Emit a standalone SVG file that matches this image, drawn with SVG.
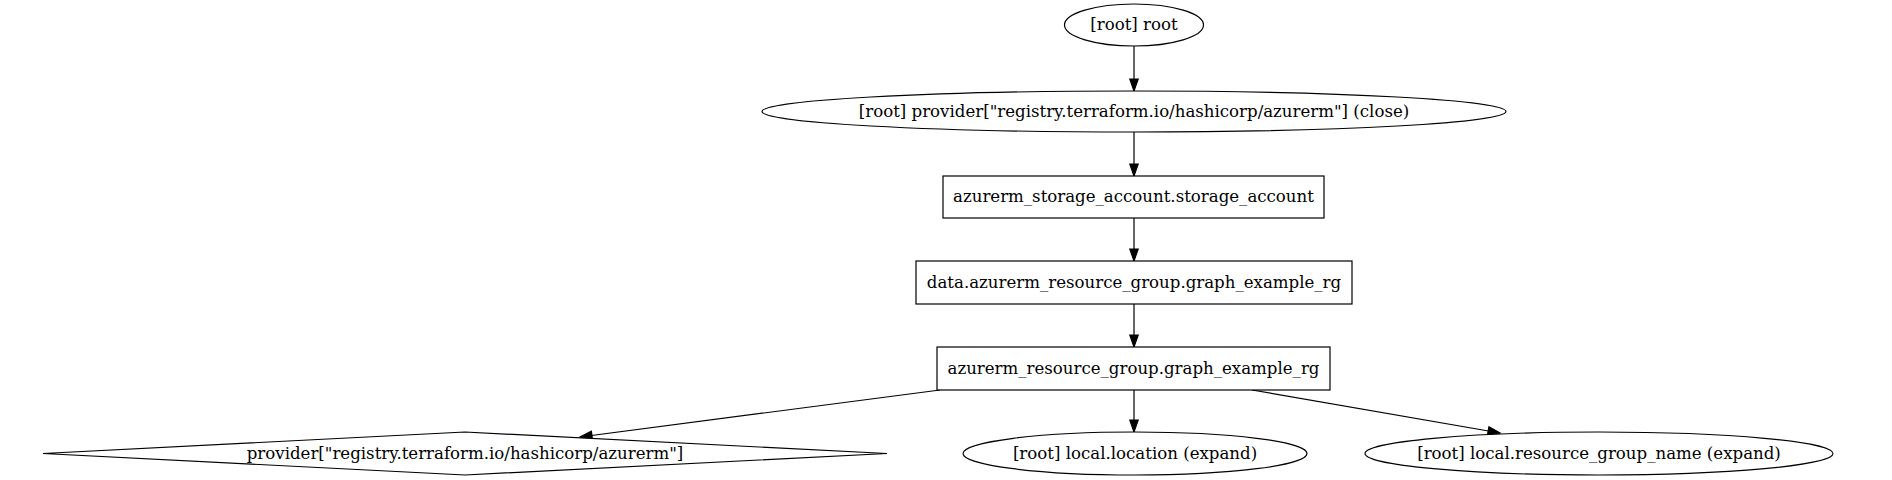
<svg xmlns="http://www.w3.org/2000/svg" width="1892" height="480" viewBox="0 0 1892 480">
<style>
.n{fill:#fff;stroke:#000;stroke-width:1.2}
.t{font-family:"DejaVu Serif",serif;font-size:16.6px;text-anchor:middle;fill:#000}
.e{fill:none;stroke:#000;stroke-width:1.2;marker-end:url(#ah)}
</style>
<defs>
<marker id="ah" markerUnits="userSpaceOnUse" markerWidth="14" markerHeight="10" refX="12" refY="4.2" orient="auto" overflow="visible">
<path d="M0,0 L12,4.2 L0,8.4 Z" fill="#000" stroke="#000" stroke-width="1.2"/>
</marker>
</defs>
<rect width="1892" height="480" fill="#fff"/>
<g id="edges">
<line class="e" x1="1134" y1="46" x2="1134" y2="91"/>
<line class="e" x1="1134" y1="132" x2="1134" y2="176"/>
<line class="e" x1="1134" y1="218" x2="1134" y2="261"/>
<line class="e" x1="1134" y1="304" x2="1134" y2="347"/>
<line class="e" x1="1134" y1="390" x2="1134" y2="432"/>
<line class="e" x1="940" y1="390" x2="580" y2="437"/>
<line class="e" x1="1252" y1="390" x2="1500" y2="433"/>
</g>
<g id="root">
<ellipse class="n" cx="1134" cy="25" rx="69.5" ry="21"/>
<text class="t" x="1134" y="30">[root] root</text>
</g>
<g id="provider_close">
<ellipse class="n" cx="1134" cy="111.5" rx="372" ry="20.5"/>
<text class="t" x="1134" y="116.5">[root] provider["registry.terraform.io/hashicorp/azurerm"] (close)</text>
</g>
<g id="storage_account">
<rect class="n" x="943" y="176" width="381" height="42"/>
<text class="t" x="1133.5" y="202">azurerm_storage_account.storage_account</text>
</g>
<g id="data_rg">
<rect class="n" x="916" y="261" width="436" height="43"/>
<text class="t" x="1134" y="287.5">data.azurerm_resource_group.graph_example_rg</text>
</g>
<g id="rg">
<rect class="n" x="937" y="347" width="393" height="43"/>
<text class="t" x="1133.5" y="373.5">azurerm_resource_group.graph_example_rg</text>
</g>
<g id="provider">
<polygon class="n" points="43,453.5 465,432 887,453.5 465,475"/>
<text class="t" x="465" y="458.5">provider["registry.terraform.io/hashicorp/azurerm"]</text>
</g>
<g id="location">
<ellipse class="n" cx="1135" cy="453.5" rx="172" ry="21.5"/>
<text class="t" x="1135" y="458.5">[root] local.location (expand)</text>
</g>
<g id="rg_name">
<ellipse class="n" cx="1599" cy="453.5" rx="234" ry="21.5"/>
<text class="t" x="1599" y="458.5">[root] local.resource_group_name (expand)</text>
</g>
</svg>
